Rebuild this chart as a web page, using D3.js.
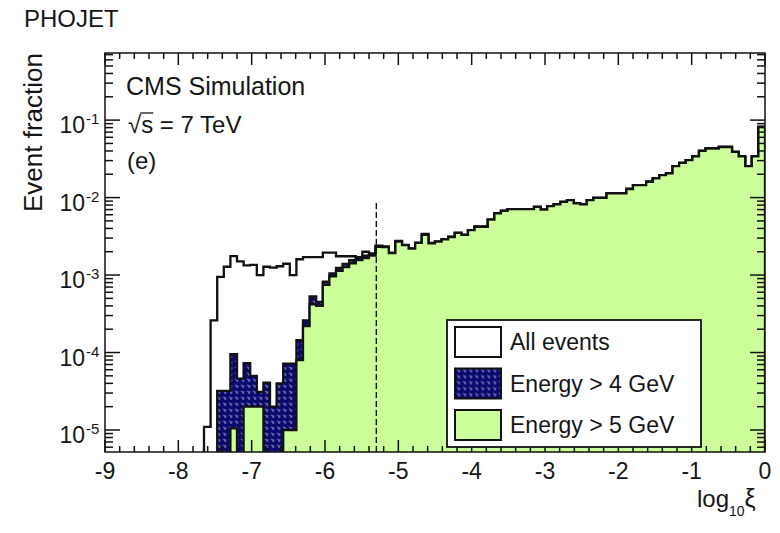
<!DOCTYPE html>
<html lang="en">
<head>
<meta charset="UTF-8">
<title>PHOJET - log10 xi</title>
<script src="https://d3js.org/d3.v7.min.js"></script>
<style>
  body { margin: 0; background: #fff; }
  svg text { font-family: "Liberation Sans", Arial, Helvetica, sans-serif; fill: #151515; }
</style>
</head>
<body>
<svg id="chart" width="780" height="533"></svg>
<script>
// 100 bins of log10(xi) between -9 and 0
const binLow = -9, binHigh = 0, nBins = 100;

const allEvents = [
  0, 0, 0, 0, 0, 0, 0, 0, 0, 0,
  0, 0, 0, 0, 0, 1.1e-5, 2.6e-4, 9.5e-4, 1.28e-3, 1.76e-3,
  1.5e-3, 1.33e-3, 1.35e-3, 1.0e-3, 1.28e-3, 1.25e-3, 1.3e-3, 1.4e-3, 1.0e-3, 1.6e-3,
  1.7e-3, 1.7e-3, 1.7e-3, 1.95e-3, 1.95e-3, 1.75e-3, 1.75e-3, 1.75e-3, 1.65e-3, 2.0e-3,
  1.85e-3, 2.4e-3, 2.35e-3, 1.95e-3, 2.75e-3, 2.45e-3, 2.2e-3, 2.6e-3, 3.4e-3, 2.6e-3,
  2.7e-3, 2.9e-3, 3.1e-3, 3.5e-3, 3.3e-3, 3.8e-3, 4.2e-3, 4.2e-3, 5.2e-3, 6.3e-3,
  6.8e-3, 7.1e-3, 7.1e-3, 7.1e-3, 7.1e-3, 7.6e-3, 7.0e-3, 7.75e-3, 8.2e-3, 8.8e-3,
  9.3e-3, 8.4e-3, 8.2e-3, 9.3e-3, 9.9e-3, 9.9e-3, 1.13e-2, 1.13e-2, 1.13e-2, 1.29e-2,
  1.45e-2, 1.45e-2, 1.6e-2, 1.77e-2, 1.95e-2, 2.05e-2, 2.55e-2, 2.8e-2, 3.05e-2, 3.4e-2,
  4.0e-2, 4.3e-2, 4.3e-2, 4.5e-2, 4.5e-2, 3.9e-2, 3.4e-2, 2.55e-2, 3.4e-2, 8.2e-2
];

const energy4 = [
  0, 0, 0, 0, 0, 0, 0, 0, 0, 0,
  0, 0, 0, 0, 0, 0, 0, 3.2e-5, 3.2e-5, 9.5e-5,
  4.6e-5, 7.3e-5, 5.0e-5, 3.1e-5, 4.1e-5, 2.0e-5, 4.0e-5, 7.2e-5, 7.2e-5, 1.45e-4,
  2.6e-4, 5.3e-4, 4.5e-4, 8.2e-4, 1.05e-3, 1.24e-3, 1.39e-3, 1.56e-3, 1.7e-3, 1.78e-3,
  1.9e-3, 2.32e-3, 2.3e-3, 1.92e-3, 2.7e-3, 2.44e-3, 2.2e-3, 2.6e-3, 3.3e-3, 2.57e-3,
  2.7e-3, 2.9e-3, 3.1e-3, 3.5e-3, 3.3e-3, 3.8e-3, 4.2e-3, 4.2e-3, 5.2e-3, 6.25e-3,
  6.75e-3, 7.1e-3, 7.1e-3, 7.1e-3, 7.1e-3, 7.6e-3, 7.0e-3, 7.75e-3, 8.2e-3, 8.8e-3,
  9.3e-3, 8.4e-3, 8.2e-3, 9.3e-3, 9.9e-3, 9.9e-3, 1.13e-2, 1.13e-2, 1.13e-2, 1.29e-2,
  1.45e-2, 1.45e-2, 1.6e-2, 1.77e-2, 1.95e-2, 2.05e-2, 2.55e-2, 2.8e-2, 3.05e-2, 3.4e-2,
  4.0e-2, 4.3e-2, 4.3e-2, 4.5e-2, 4.5e-2, 3.9e-2, 3.4e-2, 2.55e-2, 3.4e-2, 8.2e-2
];

const energy5 = [
  0, 0, 0, 0, 0, 0, 0, 0, 0, 0,
  0, 0, 0, 0, 0, 0, 0, 0, 0, 1.05e-5,
  0, 2.0e-5, 2.0e-5, 2.0e-5, 0, 0, 0, 1.0e-5, 1.0e-5, 8.0e-5,
  2.2e-4, 4.2e-4, 4.0e-4, 7.5e-4, 9.6e-4, 1.13e-3, 1.27e-3, 1.42e-3, 1.56e-3, 1.65e-3,
  1.78e-3, 2.32e-3, 2.3e-3, 1.92e-3, 2.7e-3, 2.44e-3, 2.2e-3, 2.6e-3, 3.3e-3, 2.57e-3,
  2.7e-3, 2.9e-3, 3.1e-3, 3.5e-3, 3.3e-3, 3.8e-3, 4.2e-3, 4.2e-3, 5.2e-3, 6.25e-3,
  6.75e-3, 7.1e-3, 7.1e-3, 7.1e-3, 7.1e-3, 7.6e-3, 7.0e-3, 7.75e-3, 8.2e-3, 8.8e-3,
  9.3e-3, 8.4e-3, 8.2e-3, 9.3e-3, 9.9e-3, 9.9e-3, 1.13e-2, 1.13e-2, 1.13e-2, 1.29e-2,
  1.45e-2, 1.45e-2, 1.6e-2, 1.77e-2, 1.95e-2, 2.05e-2, 2.55e-2, 2.8e-2, 3.05e-2, 3.4e-2,
  4.0e-2, 4.3e-2, 4.3e-2, 4.5e-2, 4.5e-2, 3.9e-2, 3.4e-2, 2.55e-2, 3.4e-2, 8.2e-2
];

const xTickLabels = [-9, -8, -7, -6, -5, -4, -3, -2, -1, 0];
const yDecades = [-5, -4, -3, -2, -1];
const cutValue = -5.3, cutTop = 8.5e-3;
const legendLabels = ["All events", "Energy > 4 GeV", "Energy > 5 GeV"];

const svg = d3.select("#chart");
const frame = {left: 105, right: 765, top: 53, bottom: 452};

const x = d3.scaleLinear().domain([binLow, binHigh]).range([frame.left, frame.right]);
const y = d3.scaleLog().domain([5.2e-6, 0.735]).range([frame.bottom, frame.top]);
const edges = d3.range(nBins + 1).map(i => binLow + i * (binHigh - binLow) / nBins);

const defs = svg.append("defs");
defs.append("clipPath").attr("id", "plotClip").append("rect")
    .attr("x", frame.left).attr("y", frame.top)
    .attr("width", frame.right - frame.left).attr("height", frame.bottom - frame.top);
const pat = defs.append("pattern").attr("id", "navyPat")
    .attr("width", 6).attr("height", 6).attr("patternUnits", "userSpaceOnUse");
pat.append("rect").attr("width", 6).attr("height", 6).attr("fill", "#0a0a6e");
pat.append("path").attr("d", "M0.8,1.2 h1.6 v2.2 M3.8,1.2 v2.2 h-0.9")
    .attr("stroke", "#a0a0d8").attr("stroke-width", 0.7).attr("fill", "none");

// step outline of a histogram
function histPath(vals) {
  const yb = y.range()[0] + 2;
  const pts = [[x(edges[0]), yb]];
  vals.forEach((v, i) => {
    const yy = v > 0 ? y(v) : yb;
    pts.push([x(edges[i]), yy], [x(edges[i + 1]), yy]);
  });
  pts.push([x(edges[nBins]), yb]);
  return d3.line()(pts) + "Z";
}

const plot = svg.append("g").attr("clip-path", "url(#plotClip)");
const series = [
  {vals: allEvents, fill: "#ffffff"},
  {vals: energy4, fill: "url(#navyPat)"},
  {vals: energy5, fill: "#ccff99"}
];
plot.selectAll("path.hist").data(series).enter().append("path")
    .attr("class", "hist")
    .attr("d", d => histPath(d.vals))
    .attr("fill", d => d.fill)
    .attr("stroke", "#111").attr("stroke-width", 2.3).attr("stroke-linejoin", "miter");

// cut line
plot.append("line")
    .attr("x1", x(cutValue)).attr("x2", x(cutValue))
    .attr("y1", frame.bottom).attr("y2", y(cutTop))
    .attr("stroke", "#111").attr("stroke-width", 1.4).attr("stroke-dasharray", "6,3");

// frame and ticks
const axes = svg.append("g").attr("stroke", "#111").attr("stroke-width", 1.5);
axes.append("rect")
    .attr("x", frame.left).attr("y", frame.top)
    .attr("width", frame.right - frame.left).attr("height", frame.bottom - frame.top)
    .attr("fill", "none");

const xMinor = d3.range(0, 46).map(i => binLow + i * 0.2);
xMinor.forEach(v => {
  const major = Math.abs(v - Math.round(v)) < 1e-6;
  const len = major ? 12 : 6;
  axes.append("line").attr("x1", x(v)).attr("x2", x(v))
      .attr("y1", frame.bottom).attr("y2", frame.bottom - len);
  axes.append("line").attr("x1", x(v)).attr("x2", x(v))
      .attr("y1", frame.top).attr("y2", frame.top + len);
});

const yTickVals = [];
d3.range(-6, 0).forEach(e => d3.range(1, 10).forEach(m => {
  const v = m * Math.pow(10, e);
  if (v >= y.domain()[0] && v <= y.domain()[1]) yTickVals.push({v, major: m === 1});
}));
yTickVals.forEach(t => {
  const len = t.major ? 15 : 8;
  axes.append("line").attr("x1", frame.left).attr("x2", frame.left + len)
      .attr("y1", y(t.v)).attr("y2", y(t.v));
  axes.append("line").attr("x1", frame.right).attr("x2", frame.right - len)
      .attr("y1", y(t.v)).attr("y2", y(t.v));
});

// tick labels
svg.append("g").selectAll("text").data(xTickLabels).enter().append("text")
    .attr("x", d => x(d)).attr("y", 479)
    .attr("text-anchor", "middle").attr("font-size", 23)
    .text(d => d);

const yLab = svg.append("g").selectAll("g").data(yDecades).enter().append("g");
yLab.append("text")
    .attr("x", 85).attr("y", d => y(Math.pow(10, d)) + 13)
    .attr("text-anchor", "end").attr("font-size", 23)
    .text("10");
yLab.append("text")
    .attr("x", 86).attr("y", d => y(Math.pow(10, d)) + 4)
    .attr("font-size", 15)
    .text(d => d);

// axis titles
svg.append("text")
    .attr("transform", `translate(42,${frame.top}) rotate(-90)`)
    .attr("text-anchor", "end").attr("font-size", 26)
    .text("Event fraction");

const xt = svg.append("text").attr("x", 697).attr("y", 507).attr("font-size", 24);
xt.append("tspan").text("log");
xt.append("tspan").attr("font-size", 14).attr("dy", 9).text("10");
xt.append("tspan").attr("dy", -9).attr("font-size", 25).text("ξ");

// labels in the frame
svg.append("text").attr("x", 24).attr("y", 27).attr("font-size", 24).text("PHOJET");
svg.append("text").attr("x", 126).attr("y", 95).attr("font-size", 25).text("CMS Simulation");
const rs = svg.append("text").attr("x", 128).attr("y", 133).attr("font-size", 24);
rs.append("tspan").text("√");
rs.append("tspan").text("s");
rs.append("tspan").text(" = 7 TeV");
const rsNode = rs.node();
const e0 = rsNode.getExtentOfChar(0), e1 = rsNode.getExtentOfChar(1);
svg.append("line")
    .attr("x1", e0.x + e0.width - 1).attr("x2", e1.x + e1.width)
    .attr("y1", e0.y + 2).attr("y2", e0.y + 2)
    .attr("stroke", "#151515").attr("stroke-width", 1.3);
svg.append("text").attr("x", 127).attr("y", 169).attr("font-size", 24).text("(e)");

// legend
const leg = svg.append("g");
leg.append("rect").attr("x", 447).attr("y", 320).attr("width", 254).attr("height", 127)
    .attr("fill", "#fff").attr("stroke", "#111").attr("stroke-width", 1.8);
const legRows = leg.selectAll("g").data(legendLabels).enter().append("g")
    .attr("transform", (d, i) => `translate(0,${327 + i * 41.5})`);
legRows.append("rect").attr("x", 455).attr("y", 0).attr("width", 46).attr("height", 30)
    .attr("fill", (d, i) => series[i].fill)
    .attr("stroke", "#111").attr("stroke-width", 2);
legRows.append("text").attr("x", 510).attr("y", 23).attr("font-size", 23)
    .text(d => d);
</script>
</body>
</html>
